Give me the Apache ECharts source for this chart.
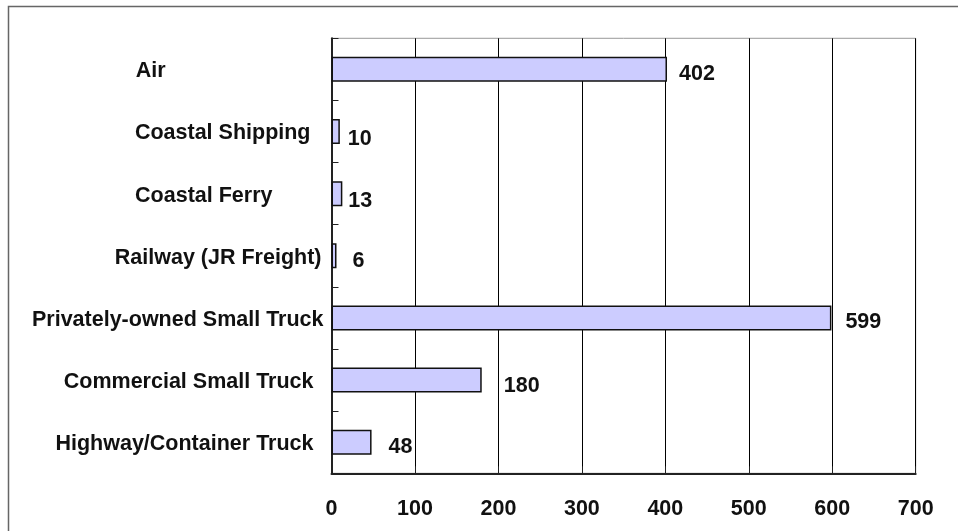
<!DOCTYPE html>
<html>
<head>
<meta charset="utf-8">
<script src="https://cdn.jsdelivr.net/npm/echarts@6/dist/echarts.min.js"></script>
<style>
  html, body { margin: 0; padding: 0; background: #ffffff; }
  #chart { width: 958px; height: 531px; }
</style>
</head>
<body>
<div id="chart"></div>
<script>
// ---- data ----
const categories = [
  'Air',
  'Coastal Shipping',
  'Coastal Ferry',
  'Railway (JR Freight)',
  'Privately-owned Small Truck',
  'Commercial Small Truck',
  'Highway/Container Truck'
];
const values = [402, 10, 13, 6, 599, 180, 48];
const xTickLabels = ['0', '100', '200', '300', '400', '500', '600', '700'];

// ---- styling (label placement as in the original) ----
const catLabelPadRight = [158, 13, 51, 2, 0, 10, 10];
const valueLabelOffset = [[12, 5], [8, 8], [6, 7.5], [16, 5], [14, 4], [22, 5.5], [17, 5]];

const FONT = "'Liberation Sans', Arial, sans-serif";
const FS = 21.5;

const rich = {};
categories.forEach((c, i) => {
  rich['c' + i] = {
    fontFamily: FONT, fontSize: FS, fontWeight: 'bold', color: '#111',
    padding: [4, catLabelPadRight[i], 0, 0]
  };
});

const chart = echarts.init(document.getElementById('chart'), null, { renderer: 'canvas' });
chart.setOption({
  animation: false,
  backgroundColor: '#ffffff',
  graphic: [{
    type: 'rect',
    shape: { x: 8.5, y: 6.5, width: 1200, height: 800 },
    style: { fill: 'none', stroke: '#666', lineWidth: 1.5 },
    silent: true
  }],
  grid: {
    left: 331.5, right: 42.3, top: 38.3, bottom: 57.7,
    show: true, borderColor: '#999', borderWidth: 1, backgroundColor: 'transparent'
  },
  xAxis: {
    type: 'value', min: 0, max: 700, interval: 100,
    axisLine: { show: true, lineStyle: { color: '#222', width: 2 } },
    axisTick: { show: true, inside: true, length: 7, lineStyle: { color: '#222', width: 1 } },
    splitLine: { show: true, lineStyle: { color: '#000', width: 1 } },
    axisLabel: {
      margin: 25, fontFamily: FONT, fontSize: FS, fontWeight: 'bold', color: '#111',
      formatter: (v) => xTickLabels[Math.round(v / 100)] ?? String(v)
    }
  },
  yAxis: {
    type: 'category', data: categories, inverse: true,
    axisLine: { show: true, lineStyle: { color: '#222', width: 2 } },
    axisTick: { show: true, inside: true, length: 7, lineStyle: { color: '#222', width: 1 } },
    splitLine: { show: false },
    axisLabel: {
      margin: 8, align: 'right',
      formatter: (v, i) => '{c' + i + '|' + v + '}',
      rich: rich
    }
  },
  series: [{
    type: 'bar',
    barWidth: 25,
    data: values.map((v, i) => ({
      value: v,
      label: { offset: valueLabelOffset[i] }
    })),
    itemStyle: { color: '#ccccff', borderColor: '#111', borderWidth: 1.5 },
    label: {
      show: true, position: 'right', distance: 0,
      fontFamily: FONT, fontSize: FS, fontWeight: 'bold', color: '#111'
    }
  }]
});
</script>
</body>
</html>
